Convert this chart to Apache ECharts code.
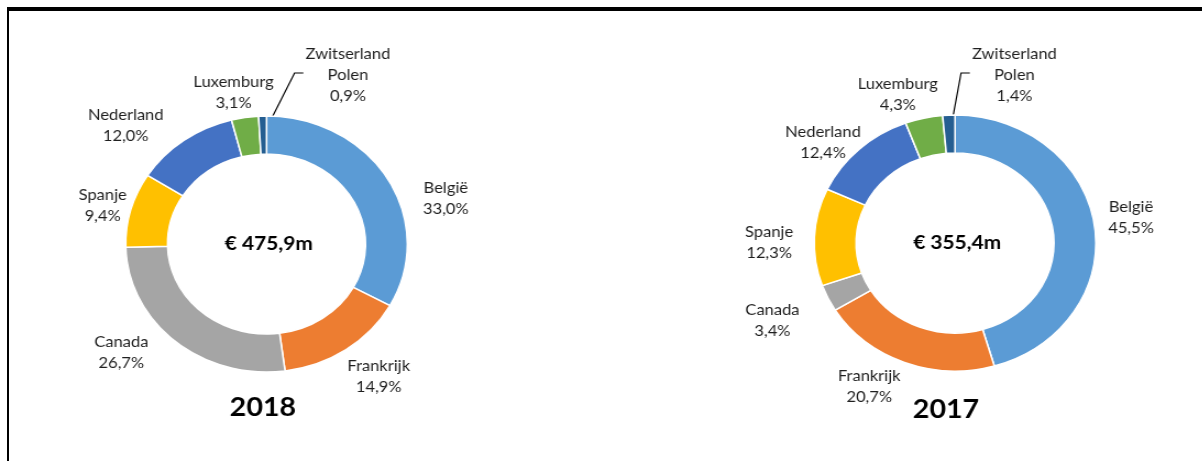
<!DOCTYPE html>
<html>
<head>
<meta charset="utf-8">
<script src="https://cdn.jsdelivr.net/npm/echarts@6/dist/echarts.min.js"></script>
<style>
  html, body { margin: 0; padding: 0; background: #fff; overflow: hidden; }
  #frame {
    position: absolute; left: 7px; top: 7px; width: 1200px; height: 460px;
    border-top: 4px solid #000; border-left: 2px solid #000; box-sizing: border-box;
  }
  /* the source picture is stretched a little in width */
  #chart {
    position: absolute; left: 0; top: 0; width: 1093px; height: 461px;
    transform: scaleX(1.1); transform-origin: 0 0;
  }
</style>
</head>
<body>
<div id="frame"></div>
<div id="chart"></div>
<script>
// landen, in volgorde met de klok mee vanaf 12 uur
const countries = ['België', 'Frankrijk', 'Canada', 'Spanje', 'Nederland', 'Luxemburg', 'Zwitserland\nPolen']
const years = ['2018', '2017']
const totals = ['€ 475,9m', '€ 355,4m']
const share2018 = [33.0, 14.9, 26.7, 9.4, 12.0, 3.1, 0.9]
const share2017 = [45.5, 20.7, 3.4, 12.3, 12.4, 4.3, 1.4]

const colors = ['#5B9BD5', '#ED7D31', '#A5A5A5', '#FFC000', '#4472C4', '#70AD47', '#255E91']
const FONT = 'Lato, "Open Sans", sans-serif'

// layout per donut (px in ongeschaalde chart-coordinaten)
const pies = [
  {
    values: share2018, center: [242.3, 244], yearY: 408, yearX: 239,
    spots: [[163, -45], [102, 133], [-132, 109], [-149, -38], [-128, -118], [-30, -151], [74, -169]]
  },
  {
    values: share2017, center: [868.2, 243], yearY: 410, yearX: 860,
    spots: [[160, -25], [-78, 144], [-166, 78], [-169, 0], [-120, -100], [-52, -148], [54, -168]]
  }
]
const R_IN = 90
const R_OUT = 128

const fmt = v => v.toFixed(1).replace('.', ',') + '%'

// midden-hoek van een segment (graden, met de klok mee vanaf boven)
function midAngle(values, idx) {
  const sum = values.reduce((a, b) => a + b, 0)
  let acc = 0
  for (let i = 0; i < idx; i++) acc += values[i]
  return (acc + values[idx] / 2) / sum * 360
}

const series = pies.map((pie, k) => ({
  type: 'pie',
  radius: [R_IN, R_OUT],
  center: pie.center,
  startAngle: 90,
  clockwise: true,
  avoidLabelOverlap: false,
  animation: false,
  silent: true,
  itemStyle: { borderColor: '#fff', borderWidth: 1.5 },
  label: {
    show: true,
    position: 'outside',
    formatter: p => p.name + '\n' + fmt(p.value),
    fontFamily: FONT,
    fontSize: 15,
    lineHeight: 21,
    color: '#1f1f1f'
  },
  labelLine: { show: false },
  labelLayout: function (p) {
    const [cx, cy] = pie.center
    const off = pie.spots[p.dataIndex]
    const x = cx + off[0]
    const y = cy + off[1]
    const res = { x: x, y: y, align: 'center', verticalAlign: 'middle' }
    if (p.dataIndex === countries.length - 1) {
      // lijntje van het kleine segment naar het label
      const a = midAngle(pie.values, p.dataIndex) * Math.PI / 180
      const rm = (R_IN + R_OUT) / 2
      const start = [cx + rm * Math.sin(a), cy - rm * Math.cos(a)]
      const endX = x - p.labelRect.width / 2 - 2
      const endY = y - 2
      res.labelLinePoints = [start, [endX - 8, endY], [endX, endY]]
    }
    return res
  },
  data: countries.map((name, i) => ({
    name: name,
    value: pie.values[i],
    itemStyle: { color: colors[i] },
    labelLine: i === countries.length - 1
      ? { show: true, lineStyle: { color: '#000', width: 1.2 } }
      : { show: false }
  }))
}))

const graphics = []
pies.forEach((pie, k) => {
  graphics.push({
    type: 'text', x: pie.center[0] + 2, y: pie.center[1],
    style: { text: totals[k], fontFamily: FONT, fontWeight: 'bold', fontSize: 19, fill: '#000', align: 'center', verticalAlign: 'middle' }
  })
  graphics.push({
    type: 'text', x: pie.yearX, y: pie.yearY,
    style: { text: years[k], fontFamily: FONT, fontWeight: 'bold', fontSize: 26, fill: '#000', align: 'center', verticalAlign: 'middle' }
  })
})

const chart = echarts.init(document.getElementById('chart'), null, { renderer: 'canvas' })
chart.setOption({
  backgroundColor: 'transparent',
  animation: false,
  series: series,
  graphic: graphics
})
</script>
</body>
</html>
